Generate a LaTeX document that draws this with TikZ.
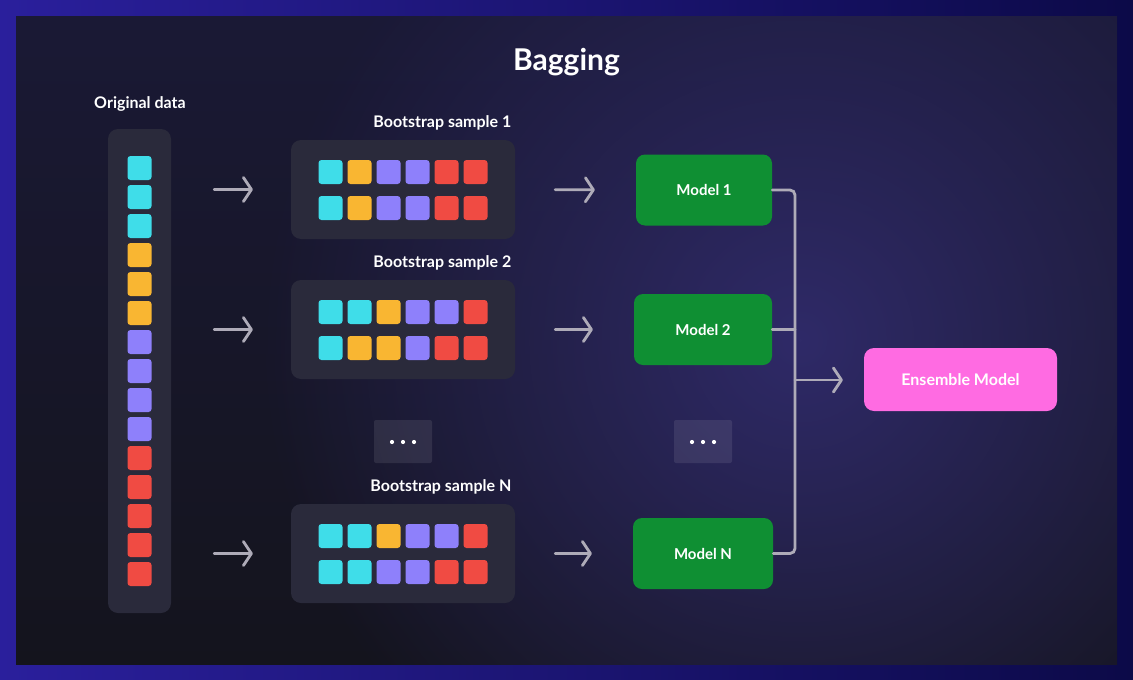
\documentclass[tikz,border=0pt]{standalone}
\usepackage{fontspec}
\setmainfont{Lato}
\usetikzlibrary{arrows.meta,calc,fadings}
\definecolor{cy}{HTML}{3FDDE9}
\definecolor{orc}{HTML}{F9B632}
\definecolor{pu}{HTML}{8E80FB}
\definecolor{rd}{HTML}{F04B43}
\definecolor{gr}{HTML}{0F8F33}
\definecolor{pk}{HTML}{FF6BE2}
\definecolor{ln}{HTML}{AEABB8}
\definecolor{boxc}{HTML}{2A2A3B}
\definecolor{panelT}{HTML}{1A1935}
\definecolor{panel}{HTML}{14141D}
\definecolor{glow}{HTML}{2F2A68}
\definecolor{outA}{HTML}{2A1F9C}
\definecolor{outB}{HTML}{0C0A48}
\tikzfading[name=glowfade, inner color=transparent!0, outer color=transparent!100]
\tikzset{
  sq/.style={fill=#1, rounded corners=3pt, minimum size=24pt, inner sep=0pt},
  holder/.style={fill=boxc, rounded corners=10pt, inner sep=0pt},
  dotbox/.style={fill=white, fill opacity=0.09, rounded corners=2pt, minimum width=58pt, minimum height=43pt, inner sep=0pt},
  model/.style={fill=gr, rounded corners=9pt, minimum height=71pt, inner sep=0pt, text=white, font=\bfseries\fontsize{15}{18}\selectfont},
  lab/.style={text=white, font=\bfseries\fontsize{16}{19}\selectfont, inner sep=0pt},
  conn/.style={draw=ln, line width=2.8pt, line cap=round},
  arr/.style={conn, -{Straight Barb[length=8pt,width=24pt,line width=2.8pt,round]}},
}
\begin{document}
\begin{tikzpicture}[x=1pt,y=-1pt]
\useasboundingbox (0,0) rectangle (1133,680);
\shade[left color=outA, right color=outB] (0,0) rectangle (1133,680);
\begin{scope}
\clip (16,16) rectangle (1117,664);
\shade[top color=panelT, bottom color=panel] (16,16) rectangle (1117,664);
\fill[glow, path fading=glowfade] (800,340) circle (540);
\end{scope}
% title
\node[text=white, font=\bfseries\fontsize{30}{34}\selectfont, inner sep=0pt] (title) at (566.5,62) {Bagging};
% original data
\node[lab] (origlab) at (140,104) {Original data};
\node[holder, minimum width=63pt, minimum height=484pt] (orig) at (139.5,371) {};
\foreach \c [count=\i from 0] in {cy,cy,cy,orc,orc,orc,pu,pu,pu,pu,rd,rd,rd,rd,rd}{
  \node[sq=\c] (o\i) at (139.5,{168+29*\i}) {};
}
% bootstrap samples
\node[holder, minimum width=224pt, minimum height=99pt] (s1) at (403,189.5) {};
\node[holder, minimum width=224pt, minimum height=99pt] (s2) at (403,329.5) {};
\node[holder, minimum width=224pt, minimum height=99pt] (sN) at (403,553.5) {};
\node[lab, anchor=east] (l1) at (511.5,123) {Bootstrap sample 1};
\node[lab, anchor=east] (l2) at (511.5,263) {Bootstrap sample 2};
\node[lab, anchor=east] (lN) at (511.5,487) {Bootstrap sample N};
\foreach \s/\top/\bot in {1/{cy,orc,pu,pu,rd,rd}/{cy,orc,pu,pu,rd,rd},2/{cy,cy,orc,pu,pu,rd}/{cy,orc,orc,pu,rd,rd},N/{cy,cy,orc,pu,pu,rd}/{cy,cy,pu,pu,rd,rd}}{
  \foreach \c [count=\j from 0] in \top {
    \node[sq=\c] (s\s a\j) at ($(s\s.center)+({-72.5+29*\j},-17.5)$) {};
  }
  \foreach \c [count=\j from 0] in \bot {
    \node[sq=\c] (s\s b\j) at ($(s\s.center)+({-72.5+29*\j},18.5)$) {};
  }
}
% dots
\node[dotbox] (d1) at (403,441.5) {};
\node[dotbox] (d2) at (703,441.5) {};
\foreach \d in {d1,d2}{
  \foreach \k in {-11,0,11}{
    \fill[white] ($(\d.center)+(\k,0.5)$) circle (2.1pt);
  }
}
% models
\node[model, minimum width=136pt] (m1) at (704,190) {Model 1};
\node[model, minimum width=138pt] (m2) at (703,329.5) {Model 2};
\node[model, minimum width=140pt] (mN) at (703,553.5) {Model N};
\node[fill=pk, rounded corners=10pt, minimum width=193pt, minimum height=63pt, inner sep=0pt, text=white, font=\bfseries\fontsize{16}{19}\selectfont] (ens) at (960.5,379.5) {Ensemble Model};
% arrows
\foreach \s in {1,2,N}{
  \draw[arr, shorten <=43pt, shorten >=38pt] (orig.east |- s\s.west) -- (s\s.west);
  \draw[arr, shorten <=40pt, shorten >=41pt] (s\s.east) -- (m\s.west);
}
\coordinate (b1) at (795,190);
\coordinate (bN) at (795,553.5);
\coordinate (bE) at (795,380);
\draw[conn, rounded corners=5pt] (m1.east) -- (b1) -- (bN) -- (mN.east);
\draw[conn] (m2.east) -- (m2.east -| b1);
\draw[arr, shorten >=21pt] (bE) -- (bE -| ens.west);
\end{tikzpicture}
\end{document}
